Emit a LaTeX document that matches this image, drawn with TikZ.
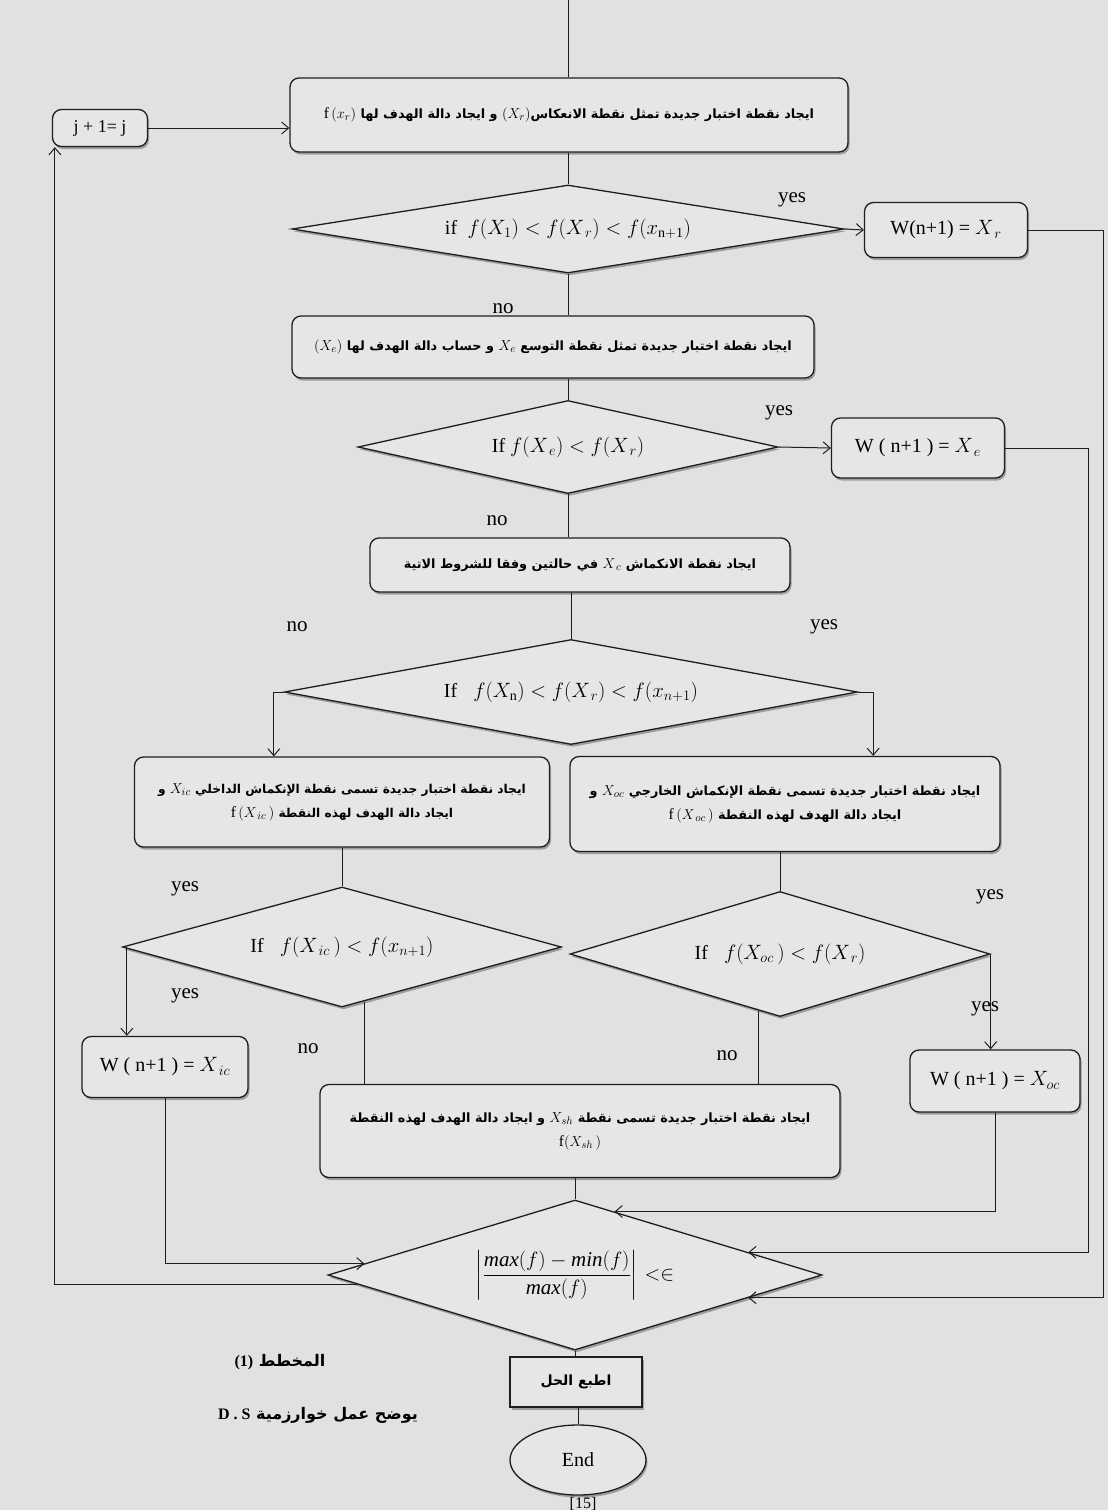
\documentclass[tikz,border=0pt]{standalone}
\usepackage{amsmath}
\usepackage{fontspec}
\setmainfont{Liberation Serif}
\newfontfamily\ar[Script=Arabic]{DejaVu Sans}
\TeXXeTstate=1
\usetikzlibrary{shapes.geometric,arrows.meta,shadows,calc}
\definecolor{bgcol}{RGB}{224,226,224}
\definecolor{boxfill}{RGB}{229,231,229}
\definecolor{ink}{RGB}{30,30,30}
\newcommand{\am}[1]{{\fontsize{15.5}{18}\selectfont$#1$}}
\tikzset{
  shp/.style={draw=ink, line width=1.3pt, fill=boxfill, inner sep=0pt, align=center,
    drop shadow={shadow xshift=1.5pt, shadow yshift=-2.5pt, fill=black!60, opacity=0.55}},
  box/.style={shp, rounded corners=9pt},
  abox/.style={box, font=\ar\bfseries\fontsize{12.8}{24}\selectfont},
  wbox/.style={box, font=\fontsize{20}{22}\selectfont},
  dia/.style={shp, diamond, font=\fontsize{20}{22}\selectfont},
  conn/.style={draw=ink, line width=1pt},
  arr/.style={conn, -{Straight Barb[length=7pt,width=12pt]}},
  lab/.style={inner sep=0pt, font=\fontsize{21}{22}\selectfont},
}
\begin{document}
\begin{tikzpicture}[x=1pt,y=-1pt]
\fill[bgcol] (0,0) rectangle (1108,1510);
\useasboundingbox (0,0) rectangle (1108,1510);

% nodes
\coordinate (top) at (568,0);
\node[abox, minimum width=558, minimum height=74] (b1) at (569,115)
  {\beginR ايجاد نقطة اختبار جديدة تمثل نقطة الانعكاس\am{(X_r)} و ايجاد دالة الهدف لها \am{\mathrm{f}\,(x_r)}\endR};
\node[wbox, minimum width=95, minimum height=37, font=\fontsize{18}{20}\selectfont] (j) at (100,128) {j + 1= j};
\node[dia, shape aspect=6.3, minimum width=552, minimum height=88] (d1) at (568,229)
  {if\; $f(X_1) < f(X_{\,r}) < f(x_{\mathrm{n+1}})$};
\node[wbox, minimum width=163, minimum height=55] (wr) at (946,230) {W(n+1) = $X_{\,r}$};

\node[abox, minimum width=522, minimum height=62] (b2) at (553,347)
  {\beginR ايجاد نقطة اختبار جديدة تمثل نقطة التوسع \am{X_e} و حساب دالة الهدف لها \am{(X_e)}\endR};
\node[dia, shape aspect=4.5, minimum width=420, minimum height=93] (d2) at (568,447)
  {If $f(X_{\,e}) < f(X_{\,r})$};
\node[wbox, minimum width=173, minimum height=60] (we) at (918,448) {W ( n+1 ) = $X_{\,e}$};

\node[abox, minimum width=420, minimum height=54] (b3) at (580,565)
  {\beginR ايجاد نقطة الانكماش \am{X_{\,c}} في حالتين وفقا للشروط الاتية\endR};
\node[dia, shape aspect=5.5, minimum width=573, minimum height=105] (d3) at (571,692)
  {If\;\; $f(X_{\mathrm{n}}) < f(X_{\,r}) < f(x_{n+1})$};

\node[abox, minimum width=415, minimum height=90, font=\ar\bfseries\fontsize{12.2}{24}\selectfont] (b4) at (342,802)
  {\beginR ايجاد نقطة اختبار جديدة تسمى نقطة الإنكماش الداخلي \am{X_{ic}} و\endR\\
   \beginR ايجاد دالة الهدف لهذه النقطة \am{\mathrm{f}\,(X_{\,ic}\,)}\endR};
\node[abox, minimum width=430, minimum height=95] (b5) at (785,804)
  {\beginR ايجاد نقطة اختبار جديدة تسمى نقطة الإنكماش الخارجي \am{X_{oc}} و\endR\\
   \beginR ايجاد دالة الهدف لهذه النقطة \am{\mathrm{f}\,(X_{\,oc}\,)}\endR};

\node[dia, shape aspect=3.7, minimum width=439, minimum height=120] (d4) at (342,947)
  {If\;\; $f(X_{\,ic}\,) < f(x_{n+1})$};
\node[dia, shape aspect=3.4, minimum width=420, minimum height=125] (d5) at (780,954)
  {If\;\; $f(X_{oc}\,) < f(X_{\,r})$};

\node[wbox, minimum width=166, minimum height=61] (wic) at (165,1067) {W ( n+1 ) = $X_{\,ic}$};
\node[wbox, minimum width=170, minimum height=62] (woc) at (995,1081) {W ( n+1 ) = $X_{oc}$};

\node[abox, minimum width=520, minimum height=93] (b6) at (580,1131)
  {\beginR ايجاد نقطة اختبار جديدة تسمى نقطة \am{X_{sh}} و ايجاد دالة الهدف لهذه النقطة\endR\\
   \am{\mathrm{f}(X_{sh}\,)}};

\node[dia, shape aspect=3.3, minimum width=494, minimum height=150, font=\fontsize{21}{24}\selectfont] (fin) at (575,1275)
  {$\left|\dfrac{\mathit{max}(f)-\mathit{min}(f)}{\mathit{max}(f)}\right|\,{<}{\in}$};

\node[shp, minimum width=132, minimum height=50, font=\ar\bfseries\fontsize{14}{16}\selectfont] (pr) at (576,1382)
  {\beginR اطبع الحل\endR};
\node[shp, ellipse, minimum width=136, minimum height=70, font=\fontsize{20}{22}\selectfont] (end) at (578,1460) {End};

% labels
\node[lab] (y1) at (792,200) {yes};
\node[lab] (n1) at (503,309) {no};
\node[lab] (y2) at (779,413) {yes};
\node[lab] (n2) at (497,521) {no};
\node[lab] (n3) at (297,627) {no};
\node[lab] (y3) at (824,627) {yes};
\node[lab] (y4) at (185,889) {yes};
\node[lab] (y5) at (185,996) {yes};
\node[lab] (y6) at (990,897) {yes};
\node[lab] (y7) at (985,1009) {yes};
\node[lab] (n4) at (308,1049) {no};
\node[lab] (n5) at (727,1056) {no};

\node[inner sep=0pt, font=\ar\bfseries\fontsize{16}{18}\selectfont] (cap1) at (280,1362)
  {\beginR المخطط \beginL{\rmfamily (1)}\endL\endR};
\node[inner sep=0pt, font=\ar\bfseries\fontsize{16}{18}\selectfont] (cap2) at (318,1415)
  {\beginR يوضح عمل خوارزمية \beginL{\rmfamily D . S}\endL\endR};
\node[inner sep=0pt, font=\fontsize{16}{18}\selectfont] (pg) at (583,1504) {[15]};

% helper coordinates on diamond edges
\coordinate (jl) at ($(j.south west)+(3,0)$);
\coordinate (d4o) at ($(d4.south)!0.1!(d4.east)$);
\coordinate (d5o) at ($(d5.south)!0.1!(d5.west)$);
\coordinate (fin1) at ($(fin.north)!0.85!(fin.west)$);
\coordinate (fout) at ($(fin.south)!0.88!(fin.west)$);
\coordinate (fr1) at ($(fin.north)!0.16!(fin.east)$);
\coordinate (fr2) at ($(fin.north)!0.7!(fin.east)$);
\coordinate (fr3) at ($(fin.east)!0.3!(fin.south)$);

% connectors
\draw[conn] (top) -- (top |- b1.north);
\draw[arr] (j.east) -- (j.east -| b1.west);
\draw[conn] (b1.south -| d1.north) -- (d1.north);
\draw[arr] (d1.east) -- (wr.west);
\draw[arr] (wr.east) -- ++(75,0) |- (fr3);
\draw[conn] (d1.south) -- (d1.south |- b2.north);
\draw[conn] (b2.south -| d2.north) -- (d2.north);
\draw[arr] (d2.east) -- (we.west);
\draw[arr] (we.east) -- ++(83,0) |- (fr2);
\draw[conn] (d2.south) -- (d2.south |- b3.north);
\draw[conn] (b3.south -| d3.north) -- (d3.north);
\draw[arr] (d3.west) -- ++(-10,0) coordinate (d3l) -- (d3l |- b4.north);
\draw[arr] (d3.east) -- ++(15,0) coordinate (d3r) -- (d3r |- b5.north);
\draw[conn] (b4.south -| d4.north) -- (d4.north);
\draw[conn] (b5.south -| d5.north) -- (d5.north);
\draw[arr] ($(d4.west)+(5,0)$) coordinate (d4l) -- (d4l |- wic.north);
\draw[conn] (d4o) -- (d4o |- b6.north);
\draw[arr] (d5.east) -- (d5.east |- woc.north);
\draw[conn] (d5o) -- (d5o |- b6.north);
\draw[conn] (b6.south -| fin.north) -- (fin.north);
\draw[arr] (wic.south) |- (fin1);
\draw[arr] (woc.south) |- (fr1);
\draw[arr] (fout) -- (fout -| jl) -- (jl);
\draw[conn] (fin.south) -- (fin.south |- pr.north);
\draw[conn] (pr.south -| end.north) -- (end.north);
\end{tikzpicture}
\end{document}
